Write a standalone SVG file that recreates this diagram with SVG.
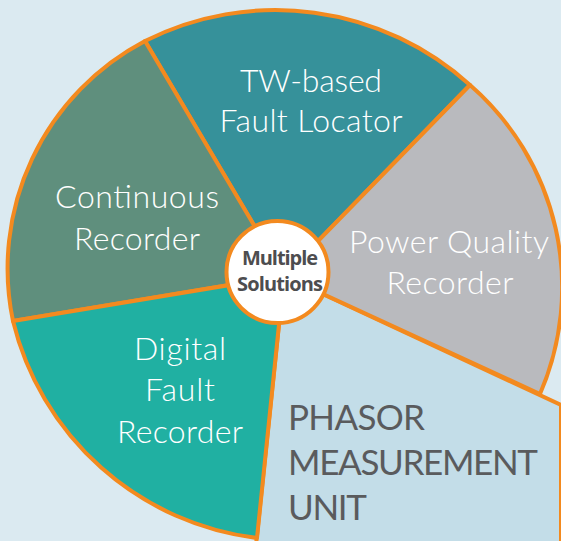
<svg xmlns="http://www.w3.org/2000/svg" width="561" height="541" viewBox="0 0 561 541">
  <style>
    .slice { stroke: #F38A1F; stroke-width: 4; stroke-linejoin: round; }
    .lbl { font-family: Lato, "Open Sans", "Liberation Sans", sans-serif; font-weight: 300; font-size: 32px; fill: #ffffff; text-anchor: middle; }
    .pmu { font-family: Lato, "Open Sans", "Liberation Sans", sans-serif; font-weight: 400; font-size: 35px; fill: #5A5B5D; }
    .hub { font-family: "Open Sans", "Liberation Sans", sans-serif; font-weight: 700; font-size: 20px; fill: #4d4d4f; text-anchor: middle; }
  </style>
  <rect width="561" height="541" fill="#DBEAF1"/>

  <!-- Phasor Measurement Unit: open wedge running off the canvas -->
  <g id="pmu">
    <path class="slice" d="M284,276 L561,405 L561,545 L256,545 Z" fill="#C3DDE8"/>
    <text class="pmu" x="288" y="430" textLength="137">PHASOR</text>
    <text class="pmu" x="288" y="475" textLength="250">MEASUREMENT</text>
    <text class="pmu" x="288" y="520" textLength="79">UNIT</text>
  </g>

  <g id="tw-fault-locator">
    <path class="slice" d="M284,276 L145,41 A290,290 0 0 1 470,85 Z" fill="#36919A"/>
    <text class="lbl" x="311" y="92" textLength="142">TW-based</text>
    <text class="lbl" x="311" y="132" textLength="183">Fault Locator</text>
  </g>

  <g id="continuous-recorder">
    <path class="slice" d="M284,276 L13,321 A257,257 0 0 1 145,41 Z" fill="#5F8F7D"/>
    <text class="lbl" x="137" y="208" textLength="164">Continuous</text>
    <text class="lbl" x="137" y="250" textLength="126">Recorder</text>
  </g>

  <g id="digital-fault-recorder">
    <path class="slice" d="M284,276 L257,538 A287,287 0 0 1 13,321 Z" fill="#20B0A2"/>
    <text class="lbl" x="180" y="360" textLength="92">Digital</text>
    <text class="lbl" x="180" y="401" textLength="70">Fault</text>
    <text class="lbl" x="180" y="443" textLength="126">Recorder</text>
  </g>

  <g id="power-quality-recorder">
    <path class="slice" d="M284,276 L470,85 A268,268 0 0 1 540,394 Z" fill="#B9BABE"/>
    <text class="lbl" x="449" y="253" textLength="200">Power Quality</text>
    <text class="lbl" x="450" y="294" textLength="127">Recorder</text>
  </g>

  <g id="multiple-solutions">
    <circle cx="277.5" cy="272" r="51" fill="#ffffff" stroke="#F38A1F" stroke-width="4"/>
    <text class="hub" x="280" y="265" textLength="76">Multiple</text>
    <text class="hub" x="280" y="291" textLength="86">Solutions</text>
  </g>
</svg>
